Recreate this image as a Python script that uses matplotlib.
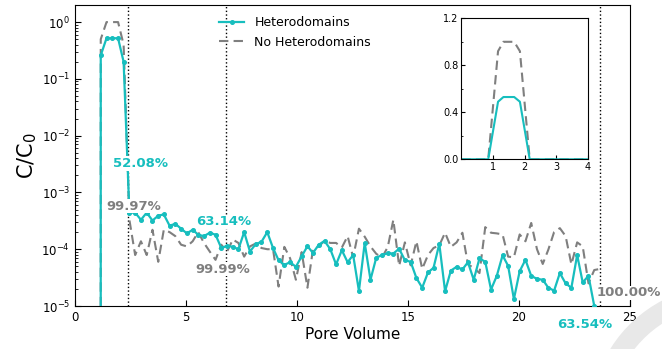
import numpy as np
import matplotlib
matplotlib.use("Agg")
import matplotlib.pyplot as plt
from matplotlib.patches import Wedge

# ---------------- data ----------------
pore_volume = [0.90, 1.16, 1.42, 1.68, 1.94, 2.19, 2.45, 2.71, 2.97, 3.23, 3.49,
               3.75, 4.00, 4.26, 4.52, 4.78, 5.04, 5.30, 5.55, 5.81, 6.07,
               6.33, 6.59, 6.85, 7.11, 7.36, 7.62, 7.88, 8.14, 8.40, 8.66,
               8.92, 9.17, 9.43, 9.69, 9.95, 10.21, 10.47, 10.72, 10.98, 11.24,
               11.50, 11.76, 12.02, 12.28, 12.53, 12.79, 13.05, 13.31, 13.57, 13.83,
               14.09, 14.34, 14.60, 14.86, 15.12, 15.38, 15.64, 15.90, 16.15, 16.41,
               16.67, 16.93, 17.19, 17.45, 17.70, 17.96, 18.22, 18.48, 18.74, 19.00,
               19.26, 19.51, 19.77, 20.03, 20.29, 20.55, 20.81, 21.07, 21.32, 21.58,
               21.84, 22.10, 22.36, 22.62, 22.87, 23.13, 23.39, 23.65]

heterodomains = [0.0, 0.26, 0.52, 0.52, 0.52, 0.20, 4.4e-4, 4.4e-4, 3.3e-4, 4.4e-4, 3.2e-4,
                 3.9e-4, 4.1e-4, 2.6e-4, 2.8e-4, 2.3e-4, 1.9e-4, 2.2e-4, 1.8e-4, 1.7e-4, 1.95e-4,
                 1.8e-4, 1.05e-4, 1.15e-4, 1.1e-4, 1.0e-4, 2.0e-4, 9.1e-5, 1.23e-4, 1.35e-4, 2.0e-4,
                 1.05e-4, 6.4e-5, 5.3e-5, 5.9e-5, 4.9e-5, 7.5e-5, 1.13e-4, 8.6e-5, 1.2e-4, 1.4e-4,
                 1.0e-4, 5.4e-5, 9.6e-5, 5.9e-5, 7.9e-5, 1.84e-5, 1.29e-4, 2.9e-5, 7.1e-5, 7.9e-5,
                 8.5e-5, 8.4e-5, 1.02e-4, 6.4e-5, 6.0e-5, 3.1e-5, 2.1e-5, 3.9e-5, 4.7e-5, 1.24e-4,
                 1.82e-5, 4.2e-5, 4.9e-5, 4.4e-5, 5.9e-5, 2.9e-5, 6.9e-5, 6.0e-5, 1.95e-5, 3.4e-5,
                 7.8e-5, 5.1e-5, 1.32e-5, 4.1e-5, 6.5e-5, 3.4e-5, 3.0e-5, 2.9e-5, 2.1e-5, 1.86e-5,
                 3.8e-5, 2.5e-5, 2.1e-5, 7.9e-5, 2.6e-5, 3.4e-5, 1.0e-5, 0.0]

no_heterodomains = [0.0, 0.50, 1.0, 1.0, 1.0, 0.40, 3.3e-4, 7.9e-5, 1.38e-4, 7.9e-5, 2.2e-4,
                    6.0e-5, 2.2e-4, 2.0e-4, 1.7e-4, 1.2e-4, 1.12e-4, 1.38e-4, 2.0e-4, 1.29e-4, 9.1e-5,
                    6.5e-5, 1.2e-4, 9.1e-5, 1.48e-4, 1.29e-4, 7.4e-5, 1.12e-4, 1.26e-4, 1.05e-4, 1.0e-4,
                    1.0e-4, 2.2e-5, 1.1e-4, 6.9e-5, 2.9e-5, 8.9e-5, 2.1e-5, 1.0e-4, 1.12e-4, 1.41e-4,
                    1.29e-4, 1.29e-4, 1.07e-4, 1.7e-4, 7.2e-5, 2.3e-4, 1.66e-4, 1.12e-4, 8.3e-5, 7.1e-5,
                    1.1e-4, 3.3e-4, 5.1e-5, 1.32e-4, 5.2e-5, 1.38e-4, 4.5e-5, 7.9e-5, 1.05e-4, 1.17e-4,
                    1.95e-4, 1.1e-4, 1.32e-4, 1.95e-4, 5.4e-5, 4.7e-5, 3.8e-5, 2.45e-4, 1.95e-4, 1.9e-4,
                    1.82e-4, 7.4e-5, 7.2e-5, 1.82e-4, 1.38e-4, 2.9e-4, 1.0e-4, 5.5e-5, 9.8e-5, 2.0e-4,
                    2.35e-4, 1.7e-4, 5.4e-5, 1.32e-4, 1.12e-4, 2.5e-5, 4.3e-5, 4.5e-5]

# inset (linear scale, early breakthrough)
inset_pv = [0.0, 0.85, 1.16, 1.33, 1.50, 1.67, 1.85, 2.16, 4.0]
inset_het = [0.0, 0.0, 0.49, 0.53, 0.53, 0.53, 0.49, 0.0, 0.0]
inset_nohet = [0.0, 0.0, 0.92, 1.0, 1.0, 1.0, 0.92, 0.0, 0.0]

# vertical markers and annotations
marker_pv = [2.40, 6.78, 23.65]
het_labels = ["52.08%", "63.14%", "63.54%"]
het_label_pos = [(2.97, 10**-2.49), (6.71, 10**-3.52), (22.95, 10**-5.33)]
nohet_labels = ["99.97%", "99.99%", "100.00%"]
nohet_label_pos = [(2.66, 10**-3.24), (6.67, 10**-4.35), (24.95, 10**-4.77)]

x_ticks = [0, 5, 10, 15, 20, 25]
inset_xticks = [1, 2, 3, 4]
inset_yticks = [0.0, 0.4, 0.8, 1.2]

CYAN = "#17BEBE"
GREY = "#7f7f7f"

# ---------------- figure ----------------
fig = plt.figure(figsize=(6.62, 3.49), dpi=100)

# decorative light-grey ring in the bottom-right corner
ring = Wedge((7.25, -0.71), 1.35, 80, 200, width=0.20,
             transform=fig.dpi_scale_trans, facecolor="#e8e8e8", edgecolor="none",
             zorder=0)
fig.patches.append(ring)

ax = fig.add_axes([75/662, 43/349, 555/662, 301/349])
ax.patch.set_alpha(0)

ax.plot(pore_volume, heterodomains, color=CYAN, lw=1.6, marker="o", ms=2.6,
        label="Heterodomains", zorder=3)
ax.plot(pore_volume[:len(no_heterodomains)], no_heterodomains, color=GREY, lw=1.5,
        ls=(0, (4.5, 2.5)), label="No Heterodomains", zorder=2)
ax.set_yscale("log")
ax.set_ylim(1e-5, 2.0)
ax.set_xlim(0, 25)
ax.set_xticks(x_ticks)

for xv in marker_pv:
    ax.axvline(xv, color="black", ls=":", lw=1.0, zorder=1)

bbox = dict(facecolor="white", edgecolor="none", pad=0.5)
for txt, (xx, yy) in zip(het_labels, het_label_pos):
    ax.text(xx, yy, txt, color=CYAN, fontsize=9.5, fontweight="bold",
            ha="center", va="center", bbox=bbox, zorder=5, clip_on=False)
for txt, (xx, yy) in zip(nohet_labels, nohet_label_pos):
    ax.text(xx, yy, txt, color=GREY, fontsize=9.5, fontweight="bold",
            ha="center", va="center", bbox=bbox, zorder=5, clip_on=False)

ax.tick_params(which="both", direction="in", labelsize=8.5)
ax.tick_params(which="major", length=4)
ax.tick_params(which="minor", length=2)
ax.set_xlabel("Pore Volume", fontsize=11, labelpad=2)
ax.set_ylabel(r"C/C$_0$", fontsize=15, labelpad=2)

ax.legend(loc="upper left", bbox_to_anchor=(0.24, 1.0), frameon=False, fontsize=9,
          handlelength=2.0)

# inset
axin = fig.add_axes([461.3/662, (349-159.3)/349, 126.7/662, 141/349])
axin.plot(inset_pv, inset_nohet, color=GREY, lw=1.5, ls=(0, (4.5, 2.5)))
axin.plot(inset_pv, inset_het, color=CYAN, lw=1.5)
axin.set_xlim(0, 4)
axin.set_ylim(0, 1.2)
axin.set_xticks(inset_xticks)
axin.set_yticks(inset_yticks)
axin.set_yticklabels([f"{v:.1f}" for v in inset_yticks])
axin.yaxis.set_minor_locator(matplotlib.ticker.MultipleLocator(0.2))
axin.tick_params(which="both", direction="in", labelsize=7, length=3, pad=2)
axin.tick_params(which="minor", length=1.5)

fig.savefig("out.png", dpi=100)
